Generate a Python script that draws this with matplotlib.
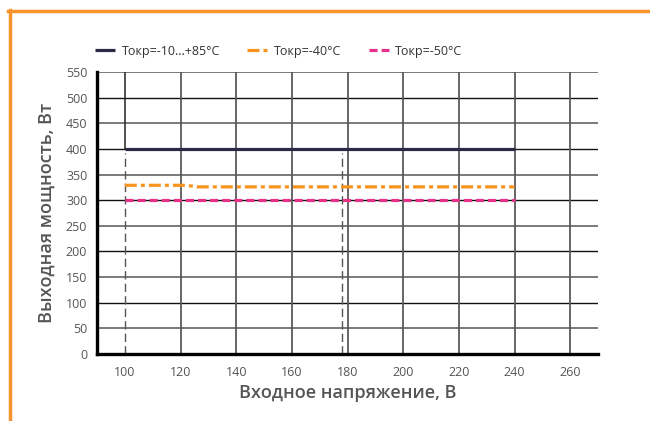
"""Output power vs input voltage at several ambient temperatures."""

import matplotlib

matplotlib.use("Agg")
import matplotlib.pyplot as plt
from matplotlib.lines import Line2D

plt.rcParams["font.family"] = ["Open Sans", "DejaVu Sans"]
plt.rcParams["lines.scale_dashes"] = False

_BORDER = "#f7942d"
_NAVY = "#2a2946"
_ORANGE = "#f7941d"
_PINK = "#e8318a"
_LABEL = "#555555"

# data
volt_normal = [100, 240]
power_normal = [400, 400]
volt_m40 = [100, 122, 126, 240]
power_m40 = [329, 329, 326, 326]
volt_m50 = [100, 240]
power_m50 = [301, 301]
legend_labels = ["Токр=-10...+85°C", "Токр=-40°C", "Токр=-50°C"]

x_ticks = [100, 120, 140, 160, 180, 200, 220, 240, 260]
y_ticks = [0, 50, 100, 150, 200, 250, 300, 350, 400, 450, 500, 550]
x_label = "Входное напряжение, В"
y_label = "Выходная мощность, Вт"

# dashed markers for the working input range
marker_volts = [100, 178]
marker_top = 392

fig = plt.figure(figsize=(6.5, 4.21), dpi=100)
ax = fig.add_axes([97 / 650, 1 - 354 / 421, 501 / 650, 282 / 421])
ax.set_xlim(90, 270)
ax.set_ylim(0, 550)

# grid: hundreds in black, odd fifties in grey
for y in y_ticks[1:]:
    black = y % 100 == 0
    ax.axhline(y, color="#111111" if black else "#7a7a7a",
               linewidth=1.0 if black else 1.4, zorder=1)
for x in x_ticks:
    if x == 100:
        ax.plot([x, x], [400, 550], color="#222222", linewidth=1.1, zorder=1)
    else:
        ax.axvline(x, color="#5a5a5a", linewidth=1.3, zorder=1)
for x in marker_volts:
    ax.plot([x, x], [0, marker_top], color="#555555", linewidth=1.0,
            dashes=(6, 3), zorder=1)

l1, = ax.plot(volt_normal, power_normal, color=_NAVY, linewidth=2.3, zorder=3,
              solid_capstyle="butt")
l2, = ax.plot(volt_m40, power_m40, color=_ORANGE, linewidth=2.3, zorder=3,
              dashes=(8.6, 2.9, 2.9, 2.9))
l3, = ax.plot(volt_m50, power_m50, color=_PINK, linewidth=2.3, zorder=3,
              dashes=(5.8, 2.9))

for side in ("top", "right"):
    ax.spines[side].set_visible(False)
for side in ("left", "bottom"):
    ax.spines[side].set_linewidth(2.4)
    ax.spines[side].set_color("black")
ax.spines["bottom"].set_bounds(90, 270)

ax.set_xticks(x_ticks)
ax.set_yticks(y_ticks)
ax.tick_params(length=0, labelsize=9, colors=_LABEL)
ax.tick_params(axis="x", pad=9)
ax.tick_params(axis="y", pad=7)

ax.set_xlabel(x_label, fontsize=13, color=_LABEL, fontweight="semibold", labelpad=3)
ax.set_ylabel(y_label, fontsize=13, color=_LABEL, fontweight="semibold", labelpad=7)

fig.legend(
    [l1, l2, l3],
    legend_labels,
    loc="center left",
    bbox_to_anchor=(84 / 650, 1 - 51 / 421),
    ncol=3,
    frameon=False,
    fontsize=9,
    labelcolor="#333333",
    handlelength=1.6,
    handletextpad=0.5,
    columnspacing=2.2,
)

# orange frame on top and left
fig.add_artist(Line2D([8 / 650, 1], [1 - 11 / 421] * 2, transform=fig.transFigure,
                      color=_BORDER, linewidth=2.5))
fig.add_artist(Line2D([9.5 / 650] * 2, [0, 1 - 10 / 421], transform=fig.transFigure,
                      color=_BORDER, linewidth=2.5))

fig.savefig("out.png", dpi=100, facecolor="white")
